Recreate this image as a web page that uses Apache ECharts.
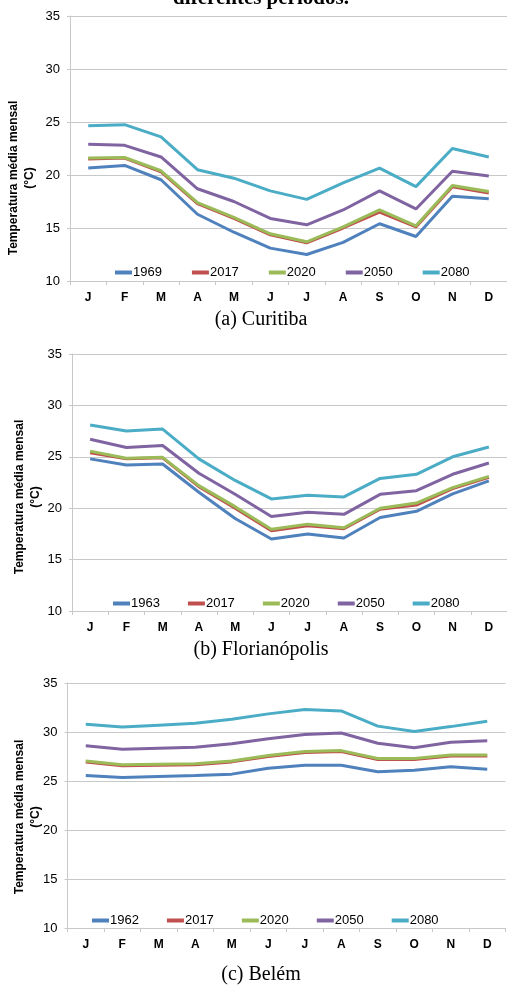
<!DOCTYPE html>
<html>
<head>
<meta charset="utf-8">
<script src="https://cdn.jsdelivr.net/npm/echarts@6/dist/echarts.min.js"></script>
<style>
html,body{margin:0;padding:0;background:#fff;}
#chart{width:507px;height:985px;}
</style>
</head>
<body>
<div id="chart"></div>
<script>
const months = ['J','F','M','A','M','J','J','A','S','O','N','D'];
const yTicks = {min:10, max:35, interval:5};

// (a) Curitiba
const curitibaNames = ['1969','2017','2020','2050','2080'];
const curitiba1969 = [20.65,20.9,19.55,16.3,14.6,13.1,12.5,13.65,15.4,14.2,18.0,17.75];
const curitiba2017 = [21.5,21.6,20.3,17.3,15.9,14.35,13.6,15.0,16.5,15.1,18.9,18.3];
const curitiba2020 = [21.6,21.65,20.4,17.4,16.0,14.45,13.7,15.1,16.7,15.2,19.0,18.45];
const curitiba2050 = [22.9,22.8,21.7,18.7,17.5,15.9,15.3,16.7,18.5,16.8,20.35,19.9];
const curitiba2080 = [24.65,24.75,23.6,20.5,19.7,18.5,17.7,19.25,20.65,18.9,22.5,21.7];

// (b) Florianópolis
const florNames = ['1963','2017','2020','2050','2080'];
const flor1963 = [24.8,24.2,24.3,21.55,19.0,17.0,17.5,17.1,19.1,19.7,21.4,22.65];
const flor2017 = [25.4,24.8,24.9,22.1,20.0,17.8,18.3,18.0,19.9,20.3,21.9,23.0];
const flor2020 = [25.55,24.85,24.95,22.2,20.15,17.95,18.45,18.1,20.0,20.5,22.0,23.1];
const flor2050 = [26.7,25.9,26.1,23.4,21.35,19.2,19.6,19.4,21.35,21.7,23.3,24.4];
const flor2080 = [28.1,27.5,27.7,24.8,22.7,20.9,21.25,21.1,22.9,23.3,25.0,25.95];

// (c) Belém
const belemNames = ['1962','2017','2020','2050','2080'];
const belem1962 = [25.55,25.35,25.45,25.55,25.7,26.3,26.6,26.6,25.95,26.1,26.45,26.2];
const belem2017 = [26.95,26.55,26.6,26.65,26.95,27.5,27.9,28.0,27.2,27.2,27.55,27.55];
const belem2020 = [27.05,26.65,26.7,26.75,27.05,27.6,28.0,28.1,27.3,27.3,27.65,27.65];
const belem2050 = [28.6,28.25,28.35,28.45,28.8,29.3,29.75,29.9,28.85,28.4,28.95,29.1];
const belem2080 = [30.8,30.5,30.7,30.9,31.3,31.85,32.3,32.15,30.6,30.05,30.55,31.1];

const colors = ['#4F81BD','#C0504D','#9BBB59','#8064A2','#4BACC6'];
const yTitle = 'Temperatura média mensal\n(°C)';
const captions = ['(a) Curitiba','(b) Florianópolis','(c) Belém'];
const pageTitle = 'diferentes períodos.';

const panels = [
  {names:curitibaNames, data:[curitiba1969,curitiba2017,curitiba2020,curitiba2050,curitiba2080],
   grid:{left:70,top:16,width:442,height:265}, legend:{left:115,top:266,gap:30},
   caption:{top:310}, ytitle:{x:22,y:178}},
  {names:florNames, data:[flor1963,flor2017,flor2020,flor2050,flor2080],
   grid:{left:72,top:354,width:436,height:257}, legend:{left:113,top:597,gap:28},
   caption:{top:640}, ytitle:{x:28,y:497}},
  {names:belemNames, data:[belem1962,belem2017,belem2020,belem2050,belem2080],
   grid:{left:67.5,top:683,width:438,height:245}, legend:{left:92,top:914,gap:28},
   caption:{top:965}, ytitle:{x:28,y:817}}
];

const grid=[], xAxis=[], yAxis=[], series=[], legend=[], title=[], graphic=[];
title.push({text:pageTitle, left:261, top:-12, padding:0, textAlign:'center',
  textStyle:{fontFamily:'Liberation Serif', fontWeight:'bold', fontSize:21, color:'#000'}});
panels.forEach((p,i)=>{
  grid.push(Object.assign({containLabel:false}, p.grid));
  xAxis.push({type:'category', gridIndex:i, data:months, boundaryGap:true,
    axisLine:{lineStyle:{color:'#c8c8c8', width:1}},
    axisTick:{show:true, interval:0, length:4, lineStyle:{color:'#c8c8c8'}},
    axisLabel:{interval:0, margin:11, color:'#000', fontFamily:'Arial, Liberation Sans', fontWeight:'bold', fontSize:12},
    splitLine:{show:false}});
  yAxis.push({type:'value', gridIndex:i, min:yTicks.min, max:yTicks.max, interval:yTicks.interval,
    axisLine:{show:true, lineStyle:{color:'#c8c8c8', width:1}},
    axisTick:{show:true, length:3, lineStyle:{color:'#c8c8c8'}},
    axisLabel:{margin:10, color:'#000', fontFamily:'Arial, Liberation Sans', fontSize:13},
    splitLine:{show:true, lineStyle:{color:'#c8c8c8', width:1}}});
  p.names.forEach((n,k)=>{
    series.push({type:'line', name:n, xAxisIndex:i, yAxisIndex:i, data:p.data[k],
      symbol:'none', smooth:false, animation:false,
      lineStyle:{color:colors[k], width:3}, itemStyle:{color:colors[k]}, z:2+k});
  });
  legend.push({data:p.names, left:p.legend.left, top:p.legend.top, itemGap:p.legend.gap, padding:0,
    icon:'rect', itemWidth:17, itemHeight:4, selectedMode:false,
    textStyle:{color:'#000', fontFamily:'Arial, Liberation Sans', fontSize:13, padding:[0,0,0,-4]}});
  title.push({text:captions[i], left:261, top:p.caption.top, padding:0, textAlign:'center',
    textStyle:{fontFamily:'Liberation Serif', fontWeight:'normal', fontSize:20, color:'#000'}});
  graphic.push({type:'text', x:p.ytitle.x, y:p.ytitle.y, rotation:Math.PI/2,
    style:{text:yTitle, fill:'#000', font:'bold 12px Arial, "Liberation Sans"', align:'center', verticalAlign:'middle', lineHeight:16}});
});

const chart = echarts.init(document.getElementById('chart'), null, {renderer:'canvas'});
chart.setOption({animation:false, color:colors, title, grid, xAxis, yAxis, series, legend, graphic});
</script>
</body>
</html>
